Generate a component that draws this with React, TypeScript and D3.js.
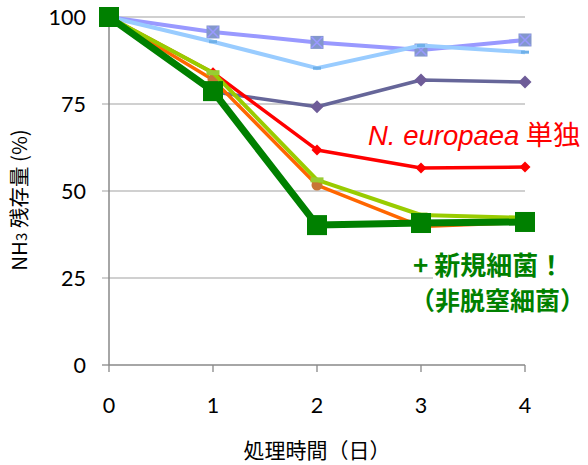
import React from "react";
import * as d3 from "d3";

const days = [0, 1, 2, 3, 4];
const yTicks = [0, 25, 50, 75, 100];
const lavenderVals = [100, 95.7, 92.7, 90.5, 93.4];
const lightBlueVals = [100, 92.9, 85.3, 91.8, 89.9];
const darkPurpleVals = [100, 78.5, 74.2, 81.9, 81.3];
const redVals = [100, 84, 61.8, 56.6, 56.9];
const orangeVals = [100, 82, 51.7, 39.8, 41];
const yellowGreenVals = [100, 84, 53.2, 43.1, 42.3];
const greenVals = [100, 78.7, 40.2, 40.8, 41.1];

const W = 588;
const H = 465;
const x = d3.scaleLinear().domain([0, 4]).range([109, 525]);
const y = d3.scaleLinear().domain([0, 100]).range([365, 17]);

const lineGen = d3
  .line<number>()
  .x((_, i) => x(days[i]))
  .y((d) => y(d));

const numFont = "Lato, 'Open Sans', sans-serif";
const jpFont = "'Noto Sans CJK JP', sans-serif";

type Marker = "squareX" | "dash" | "diamond" | "circle" | "square" | "bar";

interface SeriesDef {
  vals: number[];
  color: string;
  width: number;
  marker: Marker;
  mColor: string;
  mSize: number;
}

const series: SeriesDef[] = [
  { vals: lavenderVals, color: "#9999FF", width: 4, marker: "squareX", mColor: "#8397CC", mSize: 13 },
  { vals: lightBlueVals, color: "#99CCFF", width: 4, marker: "dash", mColor: "#6FB0E8", mSize: 8 },
  { vals: darkPurpleVals, color: "#666699", width: 3.5, marker: "diamond", mColor: "#6E5C98", mSize: 13 },
  { vals: redVals, color: "#FF0000", width: 3.5, marker: "diamond", mColor: "#FF0000", mSize: 11 },
  { vals: orangeVals, color: "#FF6600", width: 3.5, marker: "circle", mColor: "#C87535", mSize: 11 },
  { vals: yellowGreenVals, color: "#99CC00", width: 4, marker: "bar", mColor: "#99CC33", mSize: 13 },
  { vals: greenVals, color: "#008000", width: 7, marker: "square", mColor: "#008000", mSize: 20 },
];

function renderMarker(s: SeriesDef, v: number, i: number) {
  const cx = x(days[i]);
  const cy = y(v);
  const m = s.mSize;
  const key = `m${i}`;
  switch (s.marker) {
    case "square":
      return <rect key={key} x={cx - m / 2} y={cy - m / 2} width={m} height={m} fill={s.mColor} />;
    case "squareX":
      return (
        <g key={key}>
          <rect x={cx - m / 2} y={cy - m / 2} width={m} height={m} fill={s.mColor} />
          <path
            d={`M${cx - m / 2 + 1},${cy - m / 2 + 1}L${cx + m / 2 - 1},${cy + m / 2 - 1}M${cx + m / 2 - 1},${cy - m / 2 + 1}L${cx - m / 2 + 1},${cy + m / 2 - 1}`}
            stroke="#9999FF"
            strokeWidth={1.5}
          />
        </g>
      );
    case "diamond":
      return (
        <path
          key={key}
          d={`M${cx},${cy - m / 2}L${cx + m / 2},${cy}L${cx},${cy + m / 2}L${cx - m / 2},${cy}Z`}
          fill={s.mColor}
        />
      );
    case "circle":
      return <circle key={key} cx={cx} cy={cy} r={m / 2} fill={s.mColor} />;
    case "dash":
      return <rect key={key} x={cx - m / 2} y={cy - 1.5} width={m} height={3} fill={s.mColor} />;
    case "bar":
      return <rect key={key} x={cx - m / 2} y={cy - 2.5} width={m} height={5} fill={s.mColor} />;
  }
  return null;
}

export default function App() {
  return (
    <svg
      width={W}
      height={H}
      style={{ position: "absolute", left: 0, top: 0, background: "#fff" }}
    >
      <rect x={0} y={0} width={W} height={H} fill="#fff" />
      {/* gridlines */}
      {yTicks
        .filter((t) => t > 0)
        .map((t) => (
          <line key={`g${t}`} x1={102} x2={525} y1={y(t)} y2={y(t)} stroke="#C0C0C0" strokeWidth={1.3} />
        ))}
      <line x1={102} x2={109} y1={y(0)} y2={y(0)} stroke="#888" strokeWidth={1.3} />
      {/* axes */}
      <line x1={109} x2={109} y1={y(100)} y2={y(0)} stroke="#888" strokeWidth={1.5} />
      <line x1={109} x2={525} y1={y(0)} y2={y(0)} stroke="#888" strokeWidth={1.5} />
      {days.map((d) => (
        <line key={`xt${d}`} x1={x(d)} x2={x(d)} y1={y(0)} y2={y(0) + 7} stroke="#888" strokeWidth={1.3} />
      ))}
      {/* y tick labels */}
      {yTicks.map((t) => (
        <text
          key={`yl${t}`}
          x={86}
          y={y(t)}
          dy="0.36em"
          textAnchor="end"
          fontFamily={numFont}
          fontSize={21.5}
          fill="#000"
        >
          {t}
        </text>
      ))}
      {/* x tick labels */}
      {days.map((d) => (
        <text
          key={`xl${d}`}
          x={x(d)}
          y={413}
          textAnchor="middle"
          fontFamily={numFont}
          fontSize={21.5}
          fill="#000"
        >
          {d}
        </text>
      ))}
      {/* axis titles */}
      <text x={317} y={458} textAnchor="middle" fontFamily={jpFont} fontSize={21} fill="#000">
        処理時間（日）
      </text>
      <text
        transform="translate(27,200) rotate(-90)"
        textAnchor="middle"
        fontFamily={jpFont}
        fontSize={20.5}
        fill="#000"
      >
        NH
        <tspan fontSize={15}>3</tspan> 残存量 (%)
      </text>
      {/* series */}
      {series.map((s, si) => (
        <g key={`s${si}`}>
          <path d={lineGen(s.vals) || ""} fill="none" stroke={s.color} strokeWidth={s.width} strokeLinejoin="round" />
          {s.vals.map((v, i) => renderMarker(s, v, i))}
        </g>
      ))}
      {/* annotations */}
      <text x={368} y={145} fontSize={27.5} fill="#FF0000" fontFamily="'Liberation Sans', Arial, sans-serif">
        <tspan fontStyle="italic">N. europaea</tspan>
        <tspan fontFamily={jpFont}> 単独</tspan>
      </text>
      <rect x={433} y={268} width={155} height={20} fill="#fff" />
      <text x={413} y={275} fontSize={26} fontWeight="bold" fill="#008000" fontFamily={jpFont}>
        + 新規細菌！
      </text>
      <text x={410} y={310} fontSize={25} fontWeight="bold" fill="#008000" fontFamily={jpFont}>
        （非脱窒細菌）
      </text>
    </svg>
  );
}
